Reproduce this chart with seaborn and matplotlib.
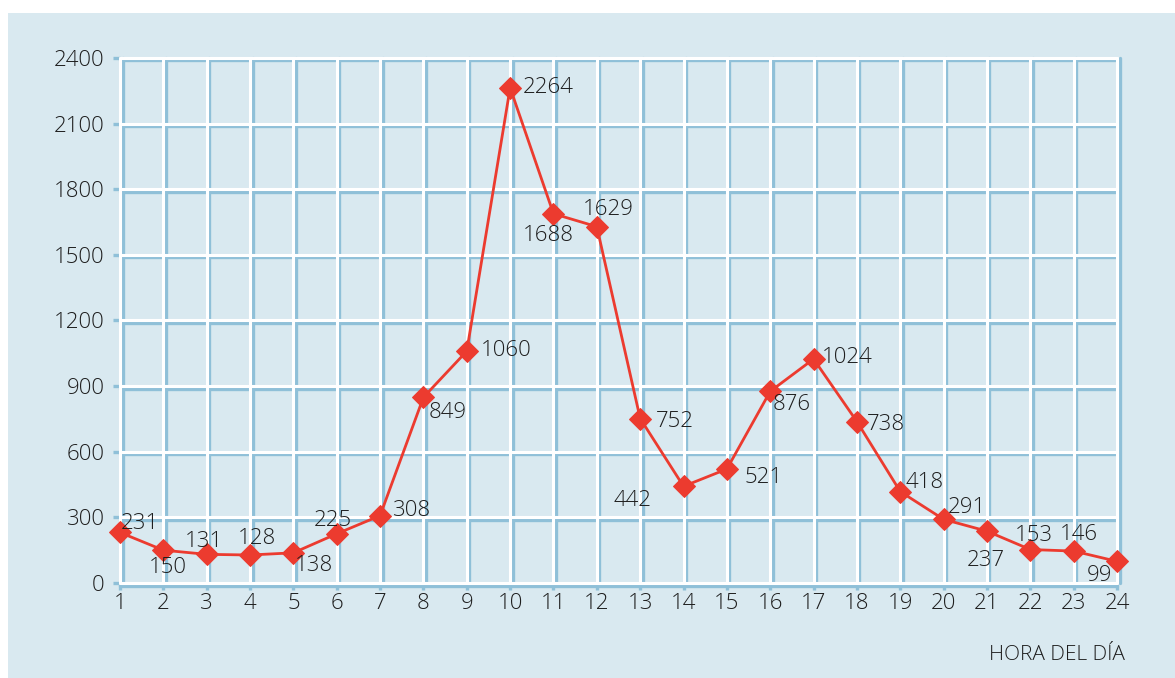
import matplotlib
matplotlib.use("Agg")
import matplotlib.pyplot as plt
import matplotlib.transforms as mtransforms
from matplotlib.patches import Rectangle
import seaborn as sns
import pandas as pd

# DATA
hours = list(range(1, 25))
values = [231, 150, 131, 128, 138, 225, 308, 849, 1060, 2264, 1688, 1629,
          752, 442, 521, 876, 1024, 738, 418, 291, 237, 153, 146, 99]
y_ticks = [0, 300, 600, 900, 1200, 1500, 1800, 2100, 2400]
x_label = "HORA DEL DÍA"

# label centre offset from its point, in pixels (right, up)
label_dx = [20, 4, -3, 7, 21, -4, 32, 24, 39, 38, -5, 11,
            35, -51, 37, 21, 34, 29, 24, 23, -1, 4, 5, -18]
label_dy = [12, -14, 16, 19, -10, 16, 8, -12, 4, 3, -19, 20,
            0, -11, -5, -10, 4, 0, 12, 15, -26, 17, 20, -11]

BG = "#d9e9f0"
GRID_BLUE = "#8fc0d8"
RED = "#ec3b2f"
TEXT = "#1e1e1e"

sns.set_style("white")
plt.rcParams["font.family"] = ["Open Sans", "DejaVu Sans"]
plt.rcParams["font.weight"] = "light"

fig = plt.figure(figsize=(11.75, 6.78), dpi=100)
fig.patch.set_facecolor("white")
fig.patches.append(Rectangle((8 / 1175, 0), 1, 1 - 13 / 678,
                             transform=fig.transFigure, facecolor=BG,
                             edgecolor="none", zorder=-10))

ax = fig.add_axes([120 / 1175, 1 - 583 / 678, 997 / 1175, 525 / 678])
ax.set_facecolor(BG)

df = pd.DataFrame({"hora": hours, "valor": values})

# grid: white lines with a blue shadow line next to them
px = 2.5 / 100
shift_r = mtransforms.ScaledTranslation(px, 0, fig.dpi_scale_trans)
shift_d = mtransforms.ScaledTranslation(0, -px, fig.dpi_scale_trans)
for h in hours:
    ln = ax.axvline(h, color=GRID_BLUE, lw=2.4, zorder=1, clip_on=False)
    ln.set_transform(ax.get_xaxis_transform() + shift_r)
    ax.axvline(h, color="white", lw=2.2, zorder=1.5, clip_on=False)
for t in y_ticks:
    ln = ax.axhline(t, color=GRID_BLUE, lw=2.4, zorder=1, clip_on=False)
    ln.set_transform(ax.get_yaxis_transform() + shift_d)
    ax.axhline(t, color="white", lw=2.2, zorder=1.5, clip_on=False)

sns.lineplot(data=df, x="hora", y="valor", ax=ax, color=RED, lw=2,
             marker="D", markersize=11, markeredgecolor=RED, zorder=5,
             clip_on=False)

# value labels (va=center counts the descent, so nudge down a little)
for h, v, dx, dy in zip(hours, values, label_dx, label_dy):
    ax.annotate(str(v), (h, v), xytext=(dx, dy - 3), textcoords="offset pixels",
                ha="center", va="center", fontsize=16, color=TEXT, zorder=6)

ax.set_xlim(1, 24)
ax.set_ylim(0, 2400)
ax.set_xticks(hours)
ax.set_yticks(y_ticks)
ax.tick_params(axis="both", colors=GRID_BLUE, length=5, width=2.4,
               labelcolor=TEXT, labelsize=16, bottom=True, left=True)
ax.tick_params(axis="x", pad=2)
ax.tick_params(axis="y", pad=6)
ax.set_xlabel("")
ax.set_ylabel("")
for s in ax.spines.values():
    s.set_visible(False)

fig.text(1125 / 1175, 1 - 655 / 678, x_label, ha="right", va="center",
         fontsize=15, color=TEXT)

fig.savefig("out.png", dpi=100)
